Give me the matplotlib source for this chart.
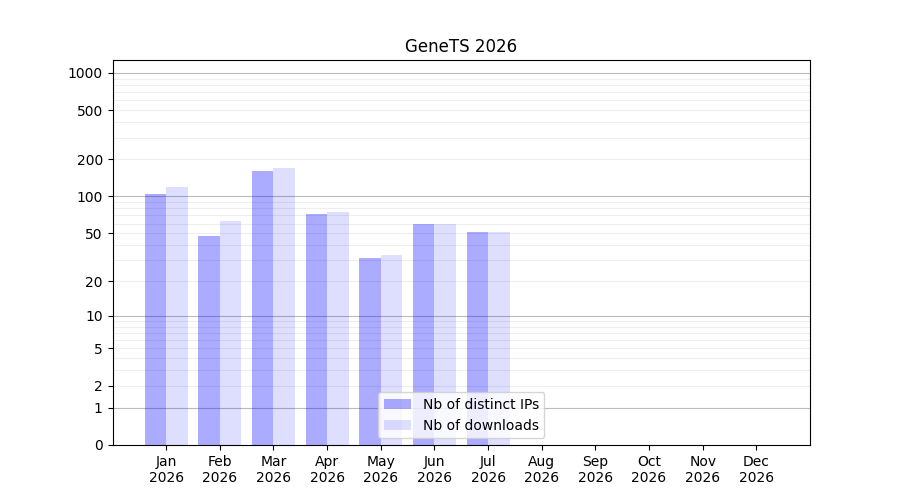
import numpy as np
import matplotlib
matplotlib.use("Agg")
import matplotlib.pyplot as plt

months = ["Jan", "Feb", "Mar", "Apr", "May", "Jun", "Jul", "Aug", "Sep", "Oct", "Nov", "Dec"]
year = "2026"
ips = [105, 47, 161, 72, 31, 60, 51]
downloads = [120, 63, 170, 75, 33, 60, 51]
ytick_vals = [0, 1, 2, 5, 10, 20, 50, 100, 200, 500, 1000]


def fwd(y):
    return np.log10(1 + np.clip(y, 0, None))


def inv(y):
    return 10 ** y - 1


fig, ax = plt.subplots(figsize=(9, 5), dpi=100)
ax.set_yscale("function", functions=(fwd, inv))

# horizontal grid lines: darker at decades, light in between
for d in [1, 10, 100, 1000]:
    ax.axhline(d, color="#bbbbbb", lw=0.8, zorder=0.5)
    for k in range(2, 10):
        if d * k < 1300:
            ax.axhline(d * k, color="#eeeeee", lw=0.8, zorder=0.5)

w = 0.4
x = np.arange(len(ips))
ax.bar(x - w / 2, ips, width=w, color="blue", alpha=0.33, label="Nb of distinct IPs", zorder=1)
ax.bar(x + w / 2, downloads, width=w, color="blue", alpha=0.13, label="Nb of downloads", zorder=1)

ax.set_xticks(np.arange(len(months)))
ax.set_xticklabels([m + "\n" + year for m in months])
ax.set_xlim(-1, 12)
ax.set_ylim(0, 1270)
ax.set_yticks(ytick_vals)
ax.set_yticklabels([str(v) for v in ytick_vals])
ax.yaxis.set_minor_locator(matplotlib.ticker.NullLocator())
ax.set_title("GeneTS 2026")
ax.legend(loc="lower center")

fig.savefig("out.png")
